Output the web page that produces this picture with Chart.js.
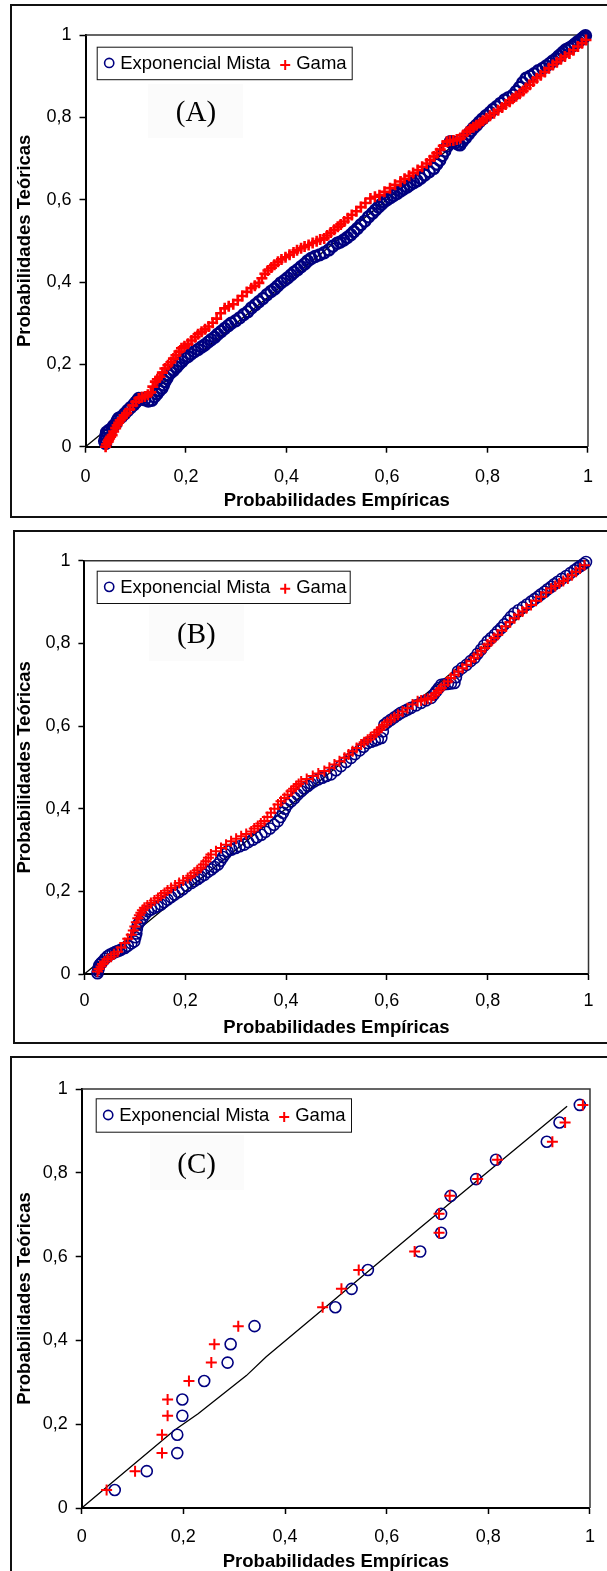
<!DOCTYPE html>
<html><head><meta charset="utf-8">
<script src="https://cdn.jsdelivr.net/npm/chart.js@4/dist/chart.umd.min.js"></script>
<style>
html,body{margin:0;padding:0;background:#fff;width:607px;height:1571px;overflow:hidden;position:relative}
.frame{position:absolute;border:2px solid #111;box-sizing:border-box}
canvas{position:absolute;left:0}
</style></head><body>
<div class="frame" style="left:10px;top:4px;width:620px;height:514px"></div>
<div class="frame" style="left:13px;top:530px;width:620px;height:514px"></div>
<div class="frame" style="left:10px;top:1056px;width:620px;height:540px"></div>
<canvas id="cA" width="607" height="520" style="top:0px"></canvas>
<canvas id="cB" width="607" height="527" style="top:520px"></canvas>
<canvas id="cC" width="607" height="533" style="top:1048px"></canvas>
<script>
// ---- shared text / ticks ----
const tickVals = [0, 0.2, 0.4, 0.6, 0.8, 1];
const tickLabels = ['0', '0,2', '0,4', '0,6', '0,8', '1'];
const xTitle = 'Probabilidades Empíricas';
const yTitle = 'Probabilidades Teóricas';
const seriesNames = ['Exponencial Mista', 'Gama'];
const panelLabels = ['(A)', '(B)', '(C)'];

// ---- Panel A: [empírica, teórica] ----
const aExp = [[0.040,0.008],[0.038,0.014],[0.040,0.020],[0.041,0.028],[0.042,0.035],[0.047,0.040],[0.053,0.045],[0.056,0.051],[0.060,0.055],[0.063,0.063],[0.066,0.069],[0.072,0.073],[0.078,0.080],[0.084,0.088],[0.090,0.095],[0.096,0.102],[0.100,0.108],[0.104,0.113],[0.106,0.117],[0.112,0.117],[0.118,0.114],[0.125,0.111],[0.132,0.113],[0.137,0.121],[0.142,0.128],[0.147,0.136],[0.152,0.142],[0.155,0.150],[0.158,0.158],[0.162,0.166],[0.165,0.174],[0.170,0.180],[0.175,0.185],[0.181,0.193],[0.186,0.200],[0.192,0.207],[0.198,0.215],[0.204,0.219],[0.210,0.225],[0.217,0.231],[0.224,0.236],[0.231,0.242],[0.237,0.247],[0.244,0.254],[0.250,0.260],[0.257,0.266],[0.263,0.273],[0.270,0.280],[0.277,0.287],[0.284,0.294],[0.290,0.300],[0.299,0.306],[0.307,0.313],[0.315,0.321],[0.323,0.328],[0.330,0.337],[0.338,0.345],[0.345,0.352],[0.353,0.360],[0.361,0.369],[0.369,0.377],[0.376,0.383],[0.382,0.390],[0.389,0.398],[0.396,0.404],[0.402,0.410],[0.409,0.417],[0.415,0.424],[0.422,0.430],[0.429,0.437],[0.436,0.444],[0.442,0.451],[0.449,0.457],[0.457,0.462],[0.466,0.466],[0.475,0.471],[0.484,0.478],[0.492,0.487],[0.501,0.494],[0.507,0.497],[0.514,0.502],[0.521,0.508],[0.528,0.515],[0.534,0.522],[0.541,0.530],[0.548,0.539],[0.556,0.548],[0.563,0.558],[0.571,0.567],[0.577,0.575],[0.583,0.582],[0.589,0.589],[0.594,0.595],[0.600,0.600],[0.607,0.605],[0.613,0.610],[0.620,0.615],[0.627,0.621],[0.633,0.626],[0.640,0.631],[0.646,0.636],[0.653,0.641],[0.660,0.646],[0.667,0.652],[0.675,0.660],[0.684,0.668],[0.693,0.676],[0.699,0.686],[0.705,0.696],[0.710,0.707],[0.715,0.718],[0.720,0.730],[0.726,0.741],[0.731,0.740],[0.736,0.738],[0.741,0.735],[0.745,0.733],[0.750,0.741],[0.756,0.750],[0.762,0.759],[0.767,0.767],[0.772,0.774],[0.778,0.781],[0.784,0.789],[0.790,0.796],[0.797,0.804],[0.805,0.812],[0.811,0.819],[0.818,0.826],[0.826,0.834],[0.834,0.842],[0.842,0.848],[0.851,0.854],[0.857,0.863],[0.864,0.873],[0.870,0.884],[0.877,0.895],[0.885,0.900],[0.893,0.906],[0.901,0.913],[0.910,0.919],[0.917,0.925],[0.924,0.931],[0.930,0.937],[0.937,0.943],[0.942,0.949],[0.947,0.954],[0.951,0.959],[0.956,0.964],[0.962,0.968],[0.968,0.972],[0.974,0.978],[0.980,0.984],[0.985,0.988],[0.989,0.992],[0.992,0.995],[0.995,0.998]];
const aGam = [[0.040,0.000],[0.042,0.006],[0.045,0.012],[0.046,0.016],[0.048,0.020],[0.050,0.024],[0.053,0.028],[0.056,0.037],[0.060,0.045],[0.063,0.052],[0.066,0.058],[0.069,0.064],[0.073,0.069],[0.077,0.076],[0.082,0.082],[0.088,0.091],[0.094,0.100],[0.100,0.109],[0.106,0.117],[0.112,0.120],[0.118,0.122],[0.124,0.126],[0.130,0.132],[0.134,0.146],[0.139,0.158],[0.143,0.164],[0.148,0.170],[0.153,0.180],[0.158,0.190],[0.164,0.198],[0.170,0.205],[0.175,0.214],[0.180,0.222],[0.186,0.231],[0.191,0.239],[0.197,0.244],[0.204,0.250],[0.211,0.258],[0.218,0.266],[0.224,0.273],[0.231,0.279],[0.238,0.285],[0.245,0.292],[0.253,0.301],[0.261,0.311],[0.269,0.324],[0.277,0.336],[0.285,0.341],[0.294,0.346],[0.303,0.356],[0.312,0.366],[0.321,0.376],[0.330,0.385],[0.337,0.391],[0.345,0.398],[0.351,0.409],[0.357,0.420],[0.363,0.428],[0.370,0.435],[0.376,0.442],[0.383,0.449],[0.390,0.455],[0.398,0.460],[0.406,0.466],[0.414,0.472],[0.421,0.477],[0.429,0.482],[0.436,0.486],[0.444,0.490],[0.452,0.495],[0.460,0.499],[0.467,0.503],[0.475,0.506],[0.481,0.513],[0.488,0.520],[0.495,0.527],[0.502,0.534],[0.508,0.540],[0.515,0.547],[0.522,0.555],[0.530,0.563],[0.539,0.572],[0.548,0.582],[0.557,0.592],[0.567,0.603],[0.576,0.607],[0.585,0.611],[0.595,0.619],[0.606,0.628],[0.616,0.636],[0.627,0.644],[0.635,0.651],[0.644,0.658],[0.652,0.665],[0.661,0.672],[0.670,0.680],[0.679,0.688],[0.686,0.696],[0.693,0.705],[0.699,0.713],[0.706,0.722],[0.712,0.731],[0.719,0.741],[0.725,0.743],[0.732,0.744],[0.739,0.746],[0.746,0.750],[0.752,0.757],[0.759,0.765],[0.765,0.771],[0.772,0.776],[0.778,0.781],[0.785,0.786],[0.791,0.792],[0.798,0.798],[0.805,0.804],[0.813,0.810],[0.821,0.817],[0.829,0.824],[0.836,0.831],[0.844,0.838],[0.850,0.845],[0.857,0.851],[0.864,0.857],[0.871,0.864],[0.877,0.871],[0.884,0.879],[0.891,0.887],[0.898,0.895],[0.906,0.902],[0.914,0.910],[0.922,0.919],[0.930,0.927],[0.938,0.934],[0.946,0.941],[0.954,0.948],[0.963,0.955],[0.971,0.963],[0.980,0.972],[0.988,0.980],[0.996,0.988]];
const aLine = [[0,0],[0.5,0.5],[0.99,0.99]];

// ---- Panel B ----
const bExp = [[0.026,0.002],[0.027,0.007],[0.028,0.012],[0.029,0.017],[0.030,0.022],[0.033,0.026],[0.036,0.030],[0.041,0.037],[0.046,0.043],[0.051,0.047],[0.056,0.050],[0.061,0.053],[0.065,0.055],[0.069,0.057],[0.073,0.059],[0.080,0.063],[0.086,0.068],[0.093,0.074],[0.099,0.079],[0.101,0.089],[0.103,0.098],[0.104,0.109],[0.106,0.119],[0.110,0.127],[0.115,0.135],[0.120,0.144],[0.126,0.152],[0.132,0.156],[0.139,0.160],[0.145,0.164],[0.152,0.168],[0.158,0.174],[0.165,0.180],[0.172,0.186],[0.179,0.192],[0.187,0.198],[0.195,0.205],[0.203,0.213],[0.212,0.220],[0.218,0.225],[0.225,0.230],[0.231,0.235],[0.238,0.240],[0.245,0.247],[0.252,0.253],[0.258,0.259],[0.265,0.265],[0.270,0.274],[0.275,0.283],[0.279,0.290],[0.284,0.297],[0.292,0.301],[0.300,0.305],[0.308,0.309],[0.317,0.313],[0.325,0.319],[0.334,0.325],[0.342,0.331],[0.351,0.337],[0.359,0.344],[0.368,0.352],[0.376,0.361],[0.384,0.370],[0.389,0.380],[0.394,0.390],[0.398,0.400],[0.403,0.410],[0.410,0.418],[0.417,0.426],[0.423,0.434],[0.430,0.442],[0.436,0.449],[0.443,0.455],[0.449,0.461],[0.456,0.466],[0.464,0.471],[0.472,0.475],[0.480,0.479],[0.489,0.483],[0.499,0.493],[0.509,0.503],[0.519,0.513],[0.529,0.523],[0.537,0.532],[0.546,0.541],[0.554,0.550],[0.562,0.559],[0.569,0.562],[0.576,0.565],[0.582,0.568],[0.589,0.571],[0.592,0.587],[0.595,0.603],[0.601,0.609],[0.608,0.615],[0.615,0.621],[0.622,0.627],[0.628,0.632],[0.635,0.636],[0.641,0.640],[0.648,0.644],[0.658,0.650],[0.668,0.656],[0.678,0.662],[0.688,0.668],[0.693,0.676],[0.698,0.684],[0.703,0.692],[0.708,0.700],[0.714,0.701],[0.721,0.702],[0.727,0.703],[0.734,0.704],[0.737,0.718],[0.741,0.732],[0.749,0.740],[0.758,0.748],[0.766,0.757],[0.774,0.765],[0.780,0.775],[0.787,0.785],[0.793,0.795],[0.800,0.805],[0.807,0.813],[0.814,0.821],[0.820,0.829],[0.827,0.837],[0.833,0.846],[0.840,0.855],[0.846,0.864],[0.853,0.873],[0.861,0.880],[0.870,0.887],[0.878,0.894],[0.886,0.901],[0.893,0.907],[0.900,0.913],[0.906,0.919],[0.913,0.925],[0.919,0.931],[0.926,0.937],[0.932,0.943],[0.939,0.949],[0.947,0.956],[0.956,0.963],[0.964,0.970],[0.972,0.977],[0.978,0.982],[0.984,0.987],[0.990,0.992],[0.995,0.997]];
const bGam = [[0.026,0.006],[0.029,0.012],[0.033,0.018],[0.036,0.024],[0.040,0.030],[0.046,0.036],[0.053,0.042],[0.059,0.048],[0.066,0.054],[0.073,0.064],[0.080,0.075],[0.086,0.085],[0.093,0.095],[0.097,0.105],[0.100,0.115],[0.103,0.125],[0.106,0.135],[0.109,0.142],[0.112,0.148],[0.115,0.154],[0.119,0.160],[0.125,0.166],[0.132,0.172],[0.139,0.178],[0.146,0.184],[0.152,0.190],[0.159,0.196],[0.165,0.202],[0.172,0.208],[0.180,0.214],[0.188,0.220],[0.196,0.226],[0.205,0.232],[0.211,0.238],[0.218,0.245],[0.224,0.251],[0.231,0.257],[0.236,0.265],[0.241,0.273],[0.246,0.281],[0.251,0.289],[0.261,0.297],[0.271,0.305],[0.281,0.313],[0.291,0.321],[0.301,0.327],[0.311,0.333],[0.321,0.339],[0.331,0.345],[0.337,0.352],[0.344,0.358],[0.350,0.364],[0.357,0.370],[0.363,0.380],[0.370,0.390],[0.377,0.400],[0.384,0.410],[0.390,0.418],[0.397,0.426],[0.403,0.434],[0.410,0.442],[0.415,0.448],[0.420,0.454],[0.425,0.460],[0.430,0.466],[0.441,0.472],[0.453,0.479],[0.464,0.485],[0.476,0.491],[0.486,0.499],[0.496,0.507],[0.506,0.515],[0.516,0.523],[0.524,0.531],[0.532,0.539],[0.540,0.547],[0.549,0.555],[0.555,0.561],[0.562,0.567],[0.568,0.573],[0.575,0.579],[0.580,0.585],[0.585,0.591],[0.590,0.597],[0.595,0.603],[0.601,0.609],[0.608,0.615],[0.615,0.621],[0.622,0.627],[0.631,0.635],[0.641,0.643],[0.651,0.652],[0.661,0.660],[0.668,0.662],[0.675,0.664],[0.681,0.666],[0.688,0.668],[0.693,0.674],[0.698,0.680],[0.703,0.686],[0.708,0.692],[0.714,0.700],[0.721,0.708],[0.727,0.716],[0.734,0.724],[0.742,0.732],[0.750,0.740],[0.758,0.748],[0.767,0.757],[0.773,0.765],[0.780,0.773],[0.787,0.781],[0.794,0.789],[0.800,0.797],[0.807,0.805],[0.813,0.813],[0.820,0.821],[0.828,0.831],[0.836,0.841],[0.844,0.851],[0.853,0.861],[0.861,0.869],[0.869,0.877],[0.877,0.885],[0.886,0.893],[0.896,0.903],[0.906,0.913],[0.916,0.923],[0.926,0.933],[0.934,0.939],[0.942,0.945],[0.950,0.951],[0.959,0.957],[0.967,0.965],[0.975,0.973],[0.983,0.981],[0.992,0.989]];
const bLine = [[0,0],[0.5,0.5],[0.99,0.99]];

// ---- Panel C ----
const cTeo = [0.043,0.088,0.131,0.175,0.220,0.259,0.303,0.347,0.391,0.434,0.479,0.523,0.568,0.612,0.657,0.702,0.745,0.785,0.831,0.874,0.920,0.962];
const cExpX = [0.065,0.128,0.188,0.188,0.198,0.198,0.241,0.287,0.293,0.340,0.499,0.531,0.563,0.666,0.707,0.707,0.726,0.776,0.815,0.915,0.940,0.980];
const cGamX = [0.049,0.105,0.158,0.158,0.169,0.169,0.211,0.255,0.261,0.308,0.474,0.511,0.545,0.655,0.703,0.703,0.724,0.779,0.818,0.926,0.951,0.986];
const cLine = [[0,0],[0.183,0.186],[0.229,0.225],[0.324,0.316],[0.363,0.361],[0.480,0.480],[0.660,0.663],[0.955,0.959]];

const FONT = '"Liberation Sans", Arial, sans-serif';
const NAVY = '#000080', RED = '#ff0000';

function pts(arr){ return arr.map(p => ({x:p[0], y:p[1]})); }

function makePanel(id, top, H, area, exp, gam, line, legend, label, mk, xPad) {
  const ctx = document.getElementById(id);
  const xH = H - (area.b - top);
  const deco = {
    id: 'deco' + id,
    beforeDatasetsDraw(chart) {
      const c = chart.ctx;
      c.save();
      c.fillStyle = '#fbfbfb';
      c.fillRect(label.rx, label.ry - top, label.rw, label.rh);
      const ca = chart.chartArea;
      c.strokeStyle = '#333';
      c.lineWidth = 1.5;
      c.beginPath();
      c.moveTo(ca.left, ca.top); c.lineTo(ca.right, ca.top); c.lineTo(ca.right, ca.bottom);
      c.stroke();
      c.restore();
    },
    afterDraw(chart) {
      const c = chart.ctx;
      c.save();
      const lx = legend.x, ly = legend.y - top;
      c.fillStyle = '#fff';
      c.fillRect(lx, ly, legend.w, legend.h);
      c.strokeStyle = '#111'; c.lineWidth = 1;
      c.strokeRect(lx + 0.5, ly + 0.5, legend.w, legend.h);
      const cy = ly + legend.h / 2;
      c.strokeStyle = NAVY; c.lineWidth = 1.6;
      c.beginPath(); c.arc(lx + 12.5, cy, 4.6, 0, Math.PI * 2); c.stroke();
      c.fillStyle = '#000';
      c.font = '18.5px ' + FONT;
      c.textBaseline = 'middle';
      c.fillText(seriesNames[0], lx + 23.5, cy + 1);
      c.strokeStyle = RED; c.lineWidth = 2;
      c.beginPath();
      c.moveTo(lx + 183.5, cy + 2); c.lineTo(lx + 193.5, cy + 2);
      c.moveTo(lx + 188.5, cy - 3); c.lineTo(lx + 188.5, cy + 7);
      c.stroke();
      c.fillText(seriesNames[1], lx + 199.5, cy + 1);
      c.font = '29px "Liberation Serif", "Times New Roman", serif';
      c.textAlign = 'center';
      c.fillText(label.text, label.cx, label.cy - top);
      c.restore();
    }
  };
  return new Chart(ctx, {
    type: 'scatter',
    data: {
      datasets: [
        { label: 'ref', data: pts(line), showLine: true, borderColor: '#000', borderWidth: 1.3,
          pointRadius: 0, order: 3, clip: false },
        { label: seriesNames[0], data: exp, pointStyle: 'circle', pointRadius: mk.cr,
          borderColor: NAVY, backgroundColor: 'rgba(0,0,0,0)', borderWidth: mk.cw, order: 2, clip: false },
        { label: seriesNames[1], data: gam, pointStyle: 'cross', pointRadius: mk.pr,
          borderColor: RED, backgroundColor: RED, borderWidth: mk.pw, order: 1, clip: false }
      ]
    },
    options: {
      responsive: false, animation: false, events: [],
      layout: { padding: { left: 0, top: area.t - top, right: 607 - area.r, bottom: 0 } },
      plugins: { legend: { display: false }, tooltip: { enabled: false } },
      scales: {
        x: {
          type: 'linear', min: 0, max: 1,
          afterFit(s) { s.height = xH; },
          afterBuildTicks(s) { s.ticks = tickVals.map(v => ({ value: v })); },
          ticks: { callback: (v, i) => tickLabels[i], font: { family: FONT, size: 18 }, color: '#000', padding: xPad, maxRotation: 0, autoSkip: false },
          grid: { drawOnChartArea: false, drawTicks: true, tickLength: 6, color: '#000', tickWidth: 1.5 },
          border: { display: true, color: '#000', width: 2 },
          title: { display: true, text: xTitle, color: '#000', font: { family: FONT, size: 18.5, weight: 'bold' }, padding: { top: 0, bottom: 8 } }
        },
        y: {
          type: 'linear', min: 0, max: 1,
          afterFit(s) { s.width = area.l; },
          afterBuildTicks(s) { s.ticks = tickVals.map(v => ({ value: v })); },
          ticks: { callback: (v, i) => tickLabels[i], font: { family: FONT, size: 18 }, color: '#000', padding: 8, autoSkip: false },
          grid: { drawOnChartArea: false, drawTicks: true, tickLength: 6, color: '#000', tickWidth: 1.5 },
          border: { display: true, color: '#000', width: 2 },
          title: { display: true, text: yTitle, color: '#000', font: { family: FONT, size: 18.5, weight: 'bold' }, padding: { top: 14, bottom: 0 } }
        }
      }
    },
    plugins: [deco]
  });
}

makePanel('cA', 0, 520, {l:85.5, r:591, t:35, b:446.7}, pts(aExp), pts(aGam), aLine,
  {x:96.7, y:46.7, w:255, h:32.5},
  {text: panelLabels[0], cx:196, cy:113, rx:148, ry:84, rw:95, rh:54},
  {cr:5.5, cw:2.4, pr:5.5, pw:2.6}, 14);
makePanel('cB', 520, 527, {l:84.4, r:588.5, t:560.7, b:974}, pts(bExp), pts(bGam), bLine,
  {x:96.7, y:570.7, w:253, h:32.3},
  {text: panelLabels[1], cx:196.3, cy:635, rx:149, ry:605, rw:95, rh:56},
  {cr:5.5, cw:1.6, pr:5.5, pw:2}, 10);
makePanel('cC', 1048, 533, {l:81.7, r:591, t:1089, b:1508}, cTeo.map((y,i)=>({x:cExpX[i], y})), cTeo.map((y,i)=>({x:cGamX[i], y})), cLine,
  {x:95.7, y:1098.3, w:255.3, h:33.4},
  {text: panelLabels[2], cx:196.7, cy:1165, rx:150, ry:1135, rw:94, rh:55},
  {cr:5.5, cw:1.6, pr:5.5, pw:2}, 12);
</script>
</body></html>
